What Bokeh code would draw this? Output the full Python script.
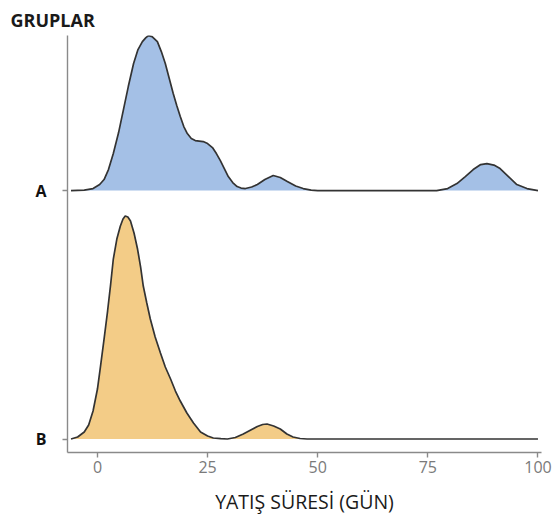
from bokeh.plotting import figure
from bokeh.models import FixedTicker, Range1d
from bokeh.embed import file_html
from bokeh.resources import INLINE

# Groups (baseline positions on the y axis) and tick labels
groups = ["B", "A"]
group_pos = [1, 2]
x_ticks = [0, 25, 50, 75, 100]

# Ridge heights (pixels of ridge height; 248.5 px = one ridge step)
a_x = [-6.0, -3.0, -1.0, 0.5, 1.5, 2.5, 3.6, 4.8, 5.9, 7.0, 8.2, 9.2, 10.2, 11.0, 11.6,
       12.4, 13.6, 14.5, 15.4, 16.3, 17.2, 18.0, 18.8, 19.6, 20.4, 21.3, 22.2, 23.1,
       24.0, 25.0, 26.1, 27.0, 27.9, 28.8, 29.7, 30.7, 31.7, 32.6, 33.6, 35.0, 36.3,
       38.0, 39.9, 41.5, 43.1, 45.0, 46.7, 48.5, 50.0, 77.0, 79.5, 81.6, 83.5, 85.3,
       87.0, 88.4, 90.0, 91.4, 93.3, 95.2, 97.5, 100.0]
a_h = [0, 0.5, 2, 6, 11, 21, 37, 58, 81, 104, 127, 141, 149, 153, 155,
       154, 149, 139, 127, 112, 97, 85, 74, 64, 57, 52, 50, 49.5,
       49, 47, 43, 37, 30, 22, 14, 8, 4, 2.5, 2, 3.5, 6,
       11, 15, 13, 9, 4.5, 2, 0.5, 0, 0, 2, 7, 14, 21,
       26, 27, 25.5, 22, 14, 6, 2, 0]

b_x = [-6.0, -4.5, -3.0, -2.0, -1.0, 0.0, 0.7, 1.5, 2.3, 3.0, 3.6, 4.4, 5.2, 5.8, 6.3,
       6.9, 7.5, 8.3, 9.1, 9.8, 10.4, 11.2, 12.0, 13.1, 14.3, 15.4, 16.6, 17.7, 18.8,
       20.3, 21.8, 23.4, 25.0, 26.3, 28.0, 29.5, 31.3, 33.1, 34.8, 36.3, 37.5, 38.5,
       40.0, 41.5, 43.0, 44.4, 46.0, 47.6, 100.0]
b_h = [0, 2, 7, 14, 28, 50, 73, 100, 128, 155, 180, 200, 213, 220, 223,
       222, 218, 206, 190, 172, 153, 136, 120, 102, 86, 72, 60, 48, 38,
       26, 16, 7, 3, 1, 0.3, 0, 1.5, 5, 9, 12.5, 14.5, 15,
       13, 10, 5, 2, 0.5, 0, 0]

STEP = 248.5
fills = {"A": "#a4c0e6", "B": "#f3cc87"}

p = figure(width=555, height=521, output_backend="svg", toolbar_location=None,
           x_range=Range1d(-6.8, 100.8), y_range=Range1d(0.9457, 2.624),
           min_border_left=67, min_border_top=35, min_border_right=14, min_border_bottom=69,
           title="GRUPLAR")
p.outline_line_color = None
p.grid.visible = False
p.background_fill_color = "white"

p.title.align = "left"
p.title.offset = -57
p.title.text_font = "Open Sans"
p.title.text_font_size = "18px"
p.title.text_font_style = "bold"
p.title.text_color = "#1a1a1a"
p.title.standoff = 8

for name, xs, hs, base in [("A", a_x, a_h, 2), ("B", b_x, b_h, 1)]:
    top = [base + h / STEP for h in hs]
    p.varea(x=xs, y1=[base] * len(xs), y2=top, fill_color=fills[name])
    p.line(x=xs, y=top, line_color="#333333", line_width=1.7)

axis_col = "#8a8a8a"
xa = p.xaxis[0]
xa.ticker = FixedTicker(ticks=x_ticks)
xa.minor_tick_line_color = None
xa.axis_line_color = axis_col
xa.axis_line_width = 1.4
xa.major_tick_line_color = axis_col
xa.major_tick_line_width = 1.4
xa.major_tick_out = 5
xa.major_tick_in = 0
xa.major_label_standoff = 3
xa.major_label_text_font = "Open Sans"
xa.major_label_text_font_size = "16px"
xa.major_label_text_color = "#7a7a7a"
xa.axis_label = "YATIŞ SÜRESİ (GÜN)"
xa.axis_label_text_font = "Open Sans"
xa.axis_label_text_font_size = "19.5px"
xa.axis_label_text_font_style = "normal"
xa.axis_label_text_color = "#1a1a1a"
xa.axis_label_standoff = 12

ya = p.yaxis[0]
ya.ticker = FixedTicker(ticks=group_pos)
ya.major_label_overrides = {pos: g for pos, g in zip(group_pos, groups)}
ya.minor_tick_line_color = None
ya.axis_line_color = axis_col
ya.axis_line_width = 1.4
ya.major_tick_line_color = axis_col
ya.major_tick_line_width = 1.4
ya.major_tick_out = 5
ya.major_tick_in = 0
ya.major_label_standoff = 16
ya.major_label_text_font = "Open Sans"
ya.major_label_text_font_size = "16px"
ya.major_label_text_font_style = "bold"
ya.major_label_text_color = "#111111"

open("out.html", "w").write(file_html(p, INLINE))
